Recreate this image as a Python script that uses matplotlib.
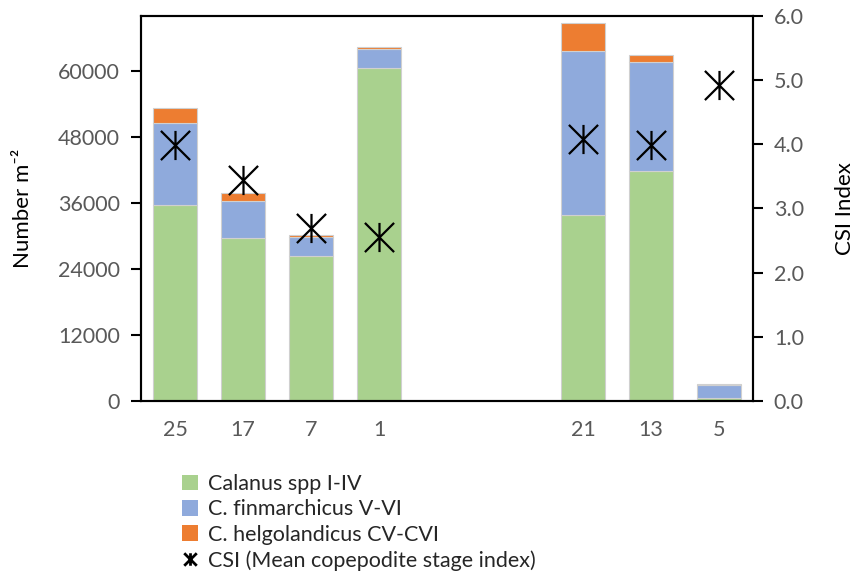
import numpy as np
import matplotlib
matplotlib.use("Agg")
import matplotlib.pyplot as plt
from matplotlib.patches import Patch
from matplotlib.lines import Line2D
from matplotlib.path import Path

# stations (empty strings = gap slots on the axis)
stations = ["25", "17", "7", "1", "", "", "21", "13", "5"]
calanus = [35700, 29600, 26400, 60500, np.nan, np.nan, 33800, 41800, 600]
finmarchicus = [14800, 6800, 3450, 3550, np.nan, np.nan, 29900, 19800, 2300]
helgolandicus = [2700, 1350, 300, 250, np.nan, np.nan, 5100, 1300, 250]
csi = [3.99, 3.44, 2.69, 2.55, np.nan, np.nan, 4.09, 3.99, 4.92]

green = "#a9d18e"
blue = "#8faadc"
orange = "#ed7d31"
grey = "#595959"

plt.rcParams['font.family'] = ['Lato', 'DejaVu Sans']

# asterisk like Excel's: X plus a vertical bar
star = Path([(0, -1), (0, 1), (-1, -1), (1, 1), (-1, 1), (1, -1)],
            [Path.MOVETO, Path.LINETO, Path.MOVETO, Path.LINETO,
             Path.MOVETO, Path.LINETO])

fig = plt.figure(figsize=(8.56, 5.77), dpi=100)
ax = fig.add_axes([0.1647, 0.305, 0.715, 0.6673])

idx = [i for i, s in enumerate(stations) if s]
c = np.array(calanus)[idx]
f = np.array(finmarchicus)[idx]
h = np.array(helgolandicus)[idx]

w = 0.65
ax.bar(idx, c, width=w, color=green, edgecolor="#d0d0d0", linewidth=0.8)
ax.bar(idx, f, width=w, bottom=c, color=blue, edgecolor="#d0d0d0", linewidth=0.8)
ax.bar(idx, h, width=w, bottom=c + f, color=orange, edgecolor="#d0d0d0", linewidth=0.8)

ax.set_xlim(-0.5, len(stations) - 0.5)
ax.set_ylim(0, 70000)
ax.set_yticks(np.arange(0, 60001, 12000))
ax.set_xticks(idx)
ax.set_xticklabels([stations[i] for i in idx])
ax.tick_params(axis="x", length=0, pad=14, labelsize=15.5, labelcolor=grey)
ax.tick_params(axis="y", length=7, width=1.5, direction="out", labelsize=15.5,
               labelcolor=grey, pad=8)
ax.set_ylabel("Number m\u207b\u00b2", fontsize=16, labelpad=18)
for sp in ax.spines.values():
    sp.set_linewidth(1.5)

ax2 = ax.twinx()
ax2.plot(idx, np.array(csi)[idx], linestyle="none", marker=star,
         markersize=21, markeredgewidth=1.6, color="black")
ax2.set_ylim(0, 6)
ax2.set_yticks(np.arange(0, 6.01, 1))
ax2.set_yticklabels([f"{v:.1f}" for v in np.arange(0, 6.01, 1)])
ax2.tick_params(axis="y", length=7, width=1.5, direction="out", labelsize=15.5,
                labelcolor=grey, pad=8)
ax2.set_ylabel("CSI Index", fontsize=16, labelpad=22)
for sp in ax2.spines.values():
    sp.set_linewidth(1.5)

handles = [
    Patch(facecolor=green, edgecolor="none", label="Calanus spp I-IV"),
    Patch(facecolor=blue, edgecolor="none", label="C. finmarchicus V-VI"),
    Patch(facecolor=orange, edgecolor="none", label="C. helgolandicus CV-CVI"),
    Line2D([], [], linestyle="none", marker=star, markersize=9,
           markeredgewidth=2, color="black",
           label="CSI (Mean copepodite stage index)"),
]
fig.legend(handles=handles, loc="upper left", bbox_to_anchor=(0.2, 0.197),
           frameon=False, fontsize=15.5, handlelength=0.75, handleheight=0.75,
           handletextpad=0.45, labelspacing=0.25, borderpad=0,
           labelcolor="#262626")

fig.savefig("out.png", dpi=100)
